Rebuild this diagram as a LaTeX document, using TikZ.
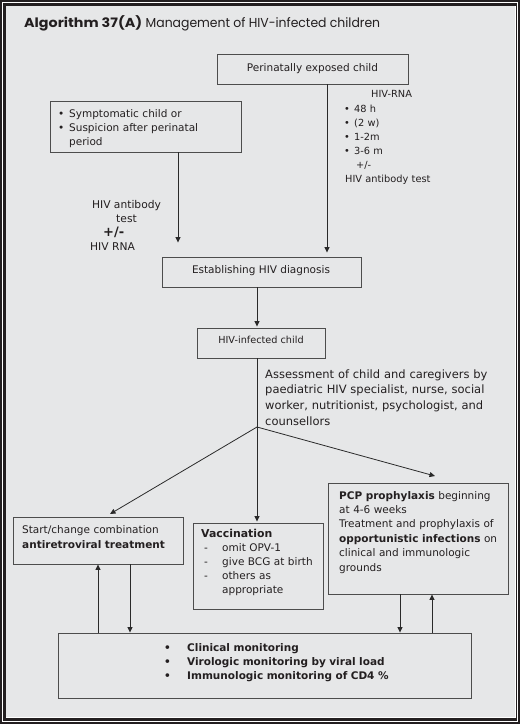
\documentclass[tikz,border=0pt]{standalone}
\usepackage{fontspec}
\setmainfont{DejaVu Sans}
\newfontfamily\titlefont{Poppins}
\usetikzlibrary{arrows.meta,calc}
\definecolor{bg}{HTML}{E6E7E8}
\definecolor{frame}{HTML}{231F20}
\definecolor{boxc}{HTML}{4D4D4D}
\definecolor{linec}{HTML}{2A2A2A}
\definecolor{txt}{HTML}{231F20}
\begin{document}
\begin{tikzpicture}[x=1pt,y=-1pt,
  box/.style={draw=boxc,line width=0.9pt,inner sep=0pt,rectangle},
  lbl/.style={inner sep=0pt,text=txt,font=\fontsize{10.5}{14.3}\selectfont},
  mlbl/.style={lbl,anchor=base west,text width=#1,align=left},
  conn/.style={draw=linec,line width=0.8pt},
  arr/.style={conn,-{Triangle[length=5.5pt,width=5pt]}}]
\useasboundingbox (0,0) rectangle (520,724);
% frame
\fill[frame] (0,0) rectangle (520,724);
\draw[white,line width=0.8pt] (2.5,2.5) rectangle (517.5,721.5);
\fill[bg] (6,6) rectangle (515,717);
\draw[white,line width=0.8pt] (515.4,6) -- (515.4,717.4) -- (6,717.4);
% title
\node[anchor=base west,inner sep=0pt,text=txt,font=\titlefont\fontsize{13}{14}\selectfont] (title) at (24,27) {{\bfseries\addfontfeature{FakeStretch=1.1}Algorithm 37(A)} {\addfontfeature{FakeStretch=0.955}Management of HIV-infected children}};
% boxes
\node[box,minimum width=191pt,minimum height=30pt] (peri) at (312.5,69) {};
\node[lbl,anchor=base] (peritxt) at (312.5,71) {Perinatally exposed child};
\node[box,minimum width=191pt,minimum height=51pt] (sympt) at (145.5,126.5) {};
\node[mlbl=185pt] (sympttxt) at (58,117) {\makebox[11pt][l]{•}Symptomatic child or\\\makebox[11pt][l]{•}Suspicion after perinatal\\\hspace*{11pt}period};
\node[lbl,anchor=base west,font=\fontsize{9.8}{14}\selectfont] (rnahead) at (371,97) {HIV-RNA};
\node[mlbl=100pt,font=\fontsize{9.8}{14}\selectfont] (rnalist) at (344,112) {\makebox[10pt][l]{•}48 h\\\makebox[10pt][l]{•}(2 w)\\\makebox[10pt][l]{•}1-2m\\\makebox[10pt][l]{•}3-6 m\\\hspace*{12pt}+/-\\\hspace*{1pt}HIV antibody test};
\node[lbl,anchor=base,font=\fontsize{10.7}{14}\selectfont] (ab1) at (126.5,208) {HIV antibody};
\node[lbl,anchor=base,font=\fontsize{10.7}{14}\selectfont] (ab2) at (126.5,222) {test};
\node[lbl,anchor=base west,font=\fontsize{13}{14}\selectfont\bfseries] (ab3) at (103,236) {+/-};
\node[lbl,anchor=base west,font=\fontsize{10.7}{14}\selectfont] (ab4) at (90,250) {HIV RNA};
\node[box,minimum width=199pt,minimum height=30pt] (estab) at (261.5,272) {};
\node[lbl,anchor=base] (estabtxt) at (261,273) {Establishing HIV diagnosis};
\node[box,minimum width=128pt,minimum height=30pt] (inf) at (261,343) {};
\node[lbl,anchor=base,font=\fontsize{9.7}{12}\selectfont] (inftxt) at (261,343) {HIV-infected child};
\node[mlbl=250pt,font=\fontsize{11.5}{15.7}\selectfont] (assess) at (265,378) {Assessment of child and caregivers by\\paediatric HIV specialist, nurse, social\\worker, nutritionist, psychologist, and\\counsellors};
\coordinate (branch) at (257,427);
\coordinate (arttip) at (110,514);
\coordinate (pcptip) at (435,476);
\node[box,minimum width=170pt,minimum height=47pt] (art) at (98,540.5) {};
\node[mlbl=165pt,font=\fontsize{10.5}{15}\selectfont] (arttxt) at (22,533) {Start/change combination\\\textbf{antiretroviral treatment}};
\node[box,minimum width=130pt,minimum height=86pt] (vacc) at (258,566) {};
\node[mlbl=125pt,font=\fontsize{10.5}{14}\selectfont] (vacctxt) at (201,537) {{\fontsize{10.9}{14}\selectfont\bfseries Vaccination}\\\makebox[21pt][l]{\hspace*{3pt}-}omit OPV-1\\\makebox[21pt][l]{\hspace*{3pt}-}give BCG at birth\\\makebox[21pt][l]{\hspace*{3pt}-}others as\\\hspace*{21pt}appropriate};
\node[box,minimum width=180pt,minimum height=111pt] (pcp) at (418,538.5) {};
\node[mlbl=170pt,font=\fontsize{10.5}{14.4}\selectfont] (pcptxt) at (339,499) {\textbf{PCP prophylaxis} beginning\\at 4-6 weeks\\Treatment and prophylaxis of\\\textbf{opportunistic infections} on\\clinical and immunologic\\grounds};
\node[box,minimum width=413pt,minimum height=65pt] (mon) at (264.5,665.5) {};
\node[mlbl=300pt,font=\fontsize{10.5}{14}\selectfont\bfseries] (montxt) at (164,651) {\makebox[23pt][l]{•}Clinical monitoring\\\makebox[23pt][l]{•}Virologic monitoring by viral load\\\makebox[23pt][l]{•}Immunologic monitoring of CD4 \%};
% connectors
\draw[arr,shorten >=4pt] (peri.south -| 327,0) -- (estab.north -| 327,0);
\draw[arr,shorten >=14pt] (sympt.south -| 178,0) -- (estab.north -| 178,0);
\draw[arr,shorten >=1pt] (estab.south -| 257,0) -- (inf.north -| 257,0);
\draw[conn] (inf.south -| 257,0) -- (branch);
\draw[arr,shorten >=1pt] (branch) -- (vacc.north -| 257,0);
\draw[arr] (branch) -- (arttip);
\draw[arr] (branch) -- (pcptip);
\draw[arr] (mon.north -| 98,0) -- (art.south -| 98,0);
\draw[arr] (art.south -| 130,0) -- (mon.north -| 130,0);
\draw[arr] (pcp.south -| 400,0) -- (mon.north -| 400,0);
\draw[arr] (mon.north -| 432,0) -- (pcp.south -| 432,0);
\end{tikzpicture}
\end{document}
